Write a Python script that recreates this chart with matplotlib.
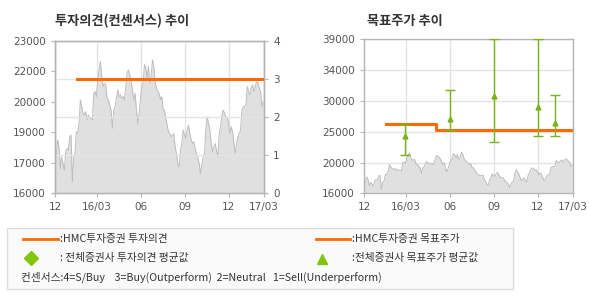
import numpy as np
import matplotlib
matplotlib.use("Agg")
import matplotlib.pyplot as plt
from matplotlib.patches import Rectangle
from matplotlib.lines import Line2D

plt.rcParams['font.family'] = ['Noto Sans CJK KR', 'DejaVu Sans']

# 주가 (일별, 그림에서 읽은 값)
price = [17050, 17820, 18440, 18130, 17130, 17660, 17360, 17050, 17900, 18050,
         17970, 18590, 18670, 16510, 17660, 17820, 18820, 18740, 19200, 20290,
         19980, 19670, 19590, 19750, 19360, 19590, 19440, 19440, 19360, 20590,
         20670, 20440, 21210, 21670, 22060, 21370, 20900, 21060, 20980, 20360,
         20290, 20050, 19820, 18980, 19820, 19980, 20360, 20750, 20440, 20520,
         20360, 20440, 20290, 20900, 21520, 21670, 21440, 21210, 20750, 20290,
         20590, 19820, 19200, 19670, 20290, 20900, 21060, 21910, 21750, 21290,
         21830, 21060, 21370, 22140, 21830, 21130, 20830, 20670, 20590, 20290,
         20440, 19820, 19820, 19440, 19130, 18820, 18740, 18590, 18670, 18740,
         18130, 17820, 17360, 17200, 17970, 18280, 18900, 18670, 18510, 18900,
         19130, 18740, 18440, 18280, 18360, 18050, 17740, 17660, 17360, 16890,
         17360, 17660, 17820, 18980, 19510, 19200, 18900, 18280, 17900, 18130,
         18280, 17970, 17660, 18740, 19050, 19590, 19820, 19670, 19440, 19510,
         19200, 18740, 19050, 18820, 18280, 17820, 18280, 18590, 18740, 18900,
         19820, 19980, 19980, 20050, 20900, 20670, 20520, 20830, 20980, 20670,
         20900, 21130, 21060, 20830, 20670, 19980, 20210]

x_ticks = [0, 2.85, 5.85, 8.85, 11.85, 14.25]
x_labels = ['12', '16/03', '06', '09', '12', '17/03']

# 투자의견
opinion_x = [1.5, 14.2]
opinion = [3, 3]

# 목표주가
target_x = [1.5, 4.9, 4.9, 14.2]
target = [26300, 26300, 25500, 25500]

# 전체증권사 목표주가 (평균, 최고, 최저)
cons_x = [2.8, 5.85, 8.85, 11.85, 13.05]
cons_mean = [24560, 27140, 30530, 28890, 26500]
cons_high = [26300, 31380, 39000, 39000, 30640]
cons_low = [21680, 25500, 23620, 24510, 24510]

left_ylabels = ['16000', '17000', '19000', '20000', '22000', '23000']
right_ylabels = ['16000', '20000', '25000', '30000', '34000', '39000']

ORANGE = '#ff6a00'
GREEN = '#7ab317'
GRID = '#e4e4e4'
SPINE = '#b5b5b5'
TXT = '#555555'

W, H = 590, 300
fig = plt.figure(figsize=(W / 100, H / 100), dpi=100)
fig.patch.set_facecolor('white')

px = np.linspace(0, 14.2, len(price))


def style(ax):
    for s in ax.spines.values():
        s.set_color(SPINE)
        s.set_linewidth(1)
    ax.tick_params(colors=SPINE, labelcolor=TXT, labelsize=7.5, length=3, width=0.8)
    ax.set_xlim(0, 14.25)
    ax.set_xticks(x_ticks)
    ax.set_xticklabels(x_labels, family='DejaVu Sans')
    ax.grid(axis='x', color=GRID, lw=1)


# ---- 왼쪽: 투자의견 추이
ax1 = fig.add_axes([55 / W, 1 - 193 / H, 209 / W, 152 / H])
ax1.fill_between(px, 16000, price, color='#e0e0e0', lw=0, zorder=1)
ax1.plot(px, price, color='#bdbdbd', lw=0.7, zorder=2)
ax1.set_ylim(16000, 23000)
ax1.set_yticks(np.linspace(16000, 23000, 6))
ax1.set_yticklabels(left_ylabels, family='DejaVu Sans')
style(ax1)
ax1.set_axisbelow(True)

ax1r = ax1.twinx()
ax1r.set_ylim(0, 4)
ax1r.set_yticks([0, 1, 2, 3, 4])
ax1r.set_yticklabels(['0', '1', '2', '3', '4'], family='DejaVu Sans')
ax1r.grid(axis='y', color=GRID, lw=1)
ax1r.plot(opinion_x, opinion, color=ORANGE, lw=2.2, zorder=5)
style(ax1r)
ax1r.set_zorder(ax1.get_zorder() + 1)
ax1r.patch.set_visible(False)

fig.text(55 / W, 1 - 21 / H, '투자의견(컨센서스) 추이', fontsize=9.5,
         fontweight='bold', color='#333333', va='center', ha='left')

# ---- 오른쪽: 목표주가 추이
ax2 = fig.add_axes([364 / W, 1 - 193.3 / H, 209 / W, 154 / H])
ax2.fill_between(px, 16000, price, color='#e0e0e0', lw=0, zorder=1)
ax2.plot(px, price, color='#bdbdbd', lw=0.7, zorder=2)
ax2.set_ylim(16000, 39000)
ax2.set_yticks(np.linspace(16000, 39000, 6))
ax2.set_yticklabels(right_ylabels, family='DejaVu Sans')
style(ax2)
ax2.grid(axis='y', color=GRID, lw=1)
ax2.set_axisbelow(True)

ax2.plot(target_x, target, color=ORANGE, lw=2.2, zorder=4)
err = [np.array(cons_mean) - np.array(cons_low), np.array(cons_high) - np.array(cons_mean)]
ax2.errorbar(cons_x, cons_mean, yerr=err, fmt='none', ecolor=GREEN,
             elinewidth=1, capsize=3.5, capthick=1, zorder=5)
ax2.plot(cons_x, cons_mean, '^', color=GREEN, ms=3.5, zorder=6)

fig.text(367 / W, 1 - 21 / H, '목표주가 추이', fontsize=9.5,
         fontweight='bold', color='#333333', va='center', ha='left')

# ---- 범례 박스
fig.patches.append(Rectangle((7 / W, 1 - 289 / H), 506 / W, 61 / H,
                             transform=fig.transFigure, facecolor='#fafafa',
                             edgecolor='#dddddd', lw=1))

fs = 7.7
lc = '#333333'
fig.add_artist(Line2D([23 / W, 58 / W], [1 - 239 / H] * 2, color=ORANGE, lw=2))
fig.text(60 / W, 1 - 239 / H, ':HMC투자증권 투자의견', fontsize=fs, color=lc, va='center')
fig.add_artist(Line2D([316 / W, 350 / W], [1 - 239 / H] * 2, color=ORANGE, lw=2))
fig.text(352 / W, 1 - 239 / H, ':HMC투자증권 목표주가', fontsize=fs, color=lc, va='center')

fig.add_artist(Line2D([31 / W], [1 - 258 / H], marker='D', color='#82c40e', ms=7, lw=0))
fig.text(60 / W, 1 - 258 / H, ': 전체증권사 투자의견 평균값', fontsize=fs, color=lc, va='center')
fig.add_artist(Line2D([322 / W], [1 - 259 / H], marker='^', color='#82c40e', ms=7, lw=0))
fig.text(352 / W, 1 - 258 / H, ':전체증권사 목표주가 평균값', fontsize=fs, color=lc, va='center')

fig.text(21 / W, 1 - 277 / H,
         '컨센서스:4=S/Buy    3=Buy(Outperform)  2=Neutral   1=Sell(Underperform)',
         fontsize=fs, color=lc, va='center')

fig.savefig('out.png', dpi=100)
